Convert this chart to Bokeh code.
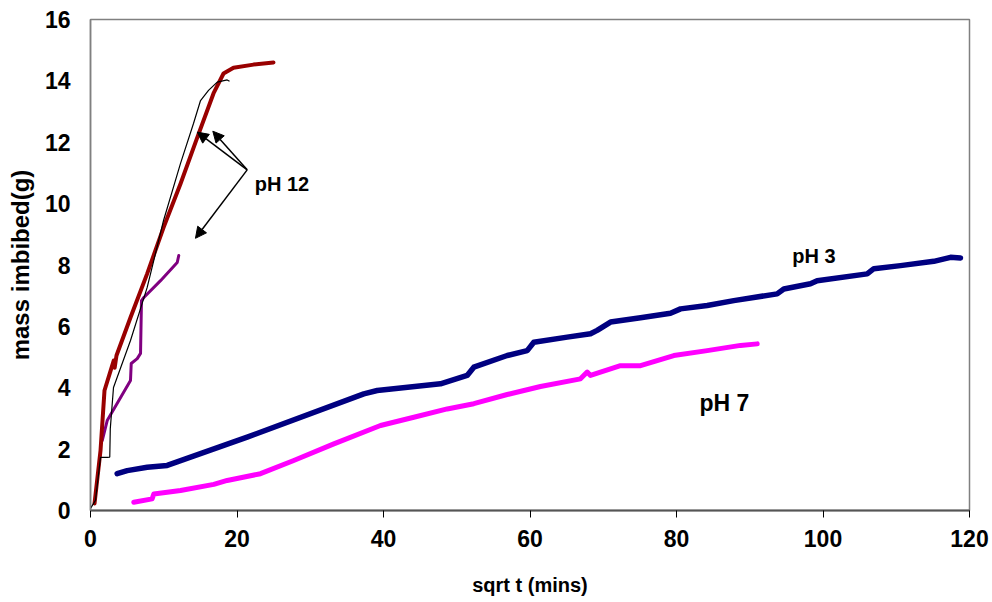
from bokeh.plotting import figure
from bokeh.models import Range1d, FixedTicker, Arrow, NormalHead, ColumnDataSource
from bokeh.core.properties import value
from bokeh.embed import file_html
from bokeh.resources import INLINE

# ---- data ----
red_x = [0.55, 1.37, 1.91, 3.18, 3.3, 3.42, 3.55, 5.46, 7.74, 9.97, 12.29, 14.57, 16.79, 18.16, 19.52, 22.25, 24.98]
red_y = [0.23, 1.96, 3.91, 4.89, 4.65, 4.85, 5.05, 6.29, 7.72, 9.22, 10.65, 12.15, 13.59, 14.24, 14.43, 14.53, 14.6]

black_x = [0.0, 0.68, 1.37, 2.28, 2.63, 2.7, 3.14, 5.46, 7.74, 9.97, 12.29, 14.06, 15.02, 16.11, 17.3, 18.66, 18.98]
black_y = [0.07, 0.33, 1.73, 1.73, 1.74, 2.66, 4.01, 5.54, 7.27, 9.45, 11.31, 12.61, 13.36, 13.69, 13.96, 14.03, 13.99]

purple_x = [1.6, 2.28, 5.46, 5.56, 6.38, 6.83, 6.96, 7.28, 9.56, 11.84, 12.05]
purple_y = [2.28, 2.93, 4.24, 4.79, 4.95, 5.12, 6.84, 6.94, 7.49, 8.08, 8.31]

ph3_x = [3.64, 5.01, 7.74, 10.47, 21.39, 37.31, 39.14, 47.78, 51.42, 52.33, 56.89, 59.62, 60.52,
         65.08, 68.26, 69.17, 70.99, 75.09, 79.18, 80.55, 84.19, 87.82, 93.74, 94.65, 98.29, 99.2,
         106.03, 106.94, 110.58, 115.13, 117.41, 118.77]
ph3_y = [1.2, 1.3, 1.41, 1.47, 2.39, 3.8, 3.91, 4.13, 4.4, 4.67, 5.05, 5.21, 5.48,
         5.65, 5.76, 5.87, 6.14, 6.28, 6.43, 6.57, 6.68, 6.84, 7.06, 7.22, 7.39, 7.49,
         7.71, 7.88, 7.98, 8.12, 8.25, 8.23]

ph7_x = [5.91, 8.42, 8.64, 12.29, 16.83, 18.66, 23.21, 27.75, 33.22, 39.59, 44.14, 48.7, 52.33,
         56.89, 61.43, 66.89, 67.81, 68.26, 72.35, 75.09, 79.63, 84.19, 88.74, 91.02]
ph7_y = [0.27, 0.38, 0.54, 0.65, 0.85, 0.98, 1.2, 1.63, 2.17, 2.77, 3.04, 3.31, 3.48,
         3.78, 4.04, 4.29, 4.51, 4.4, 4.72, 4.72, 5.05, 5.21, 5.38, 5.43]

x_ticks = [0, 20, 40, 60, 80, 100, 120]
y_ticks = [0, 2, 4, 6, 8, 10, 12, 14, 16]

label_text = ["pH 12", "pH 3", "pH 7"]
label_x = [26.14, 98.76, 86.55]
label_y = [10.64, 8.29, 3.49]
label_size = ["20px", "20px", "23px"]

arrow_origin = (21.39, 11.1)
arrow_tips_x = [14.57, 16.7, 14.33]
arrow_tips_y = [12.33, 12.36, 8.87]

FONT = "Liberation Sans"

p = figure(width=992, height=602, output_backend="svg", toolbar_location=None,
           x_range=Range1d(0, 120), y_range=Range1d(0, 16),
           min_border_left=90, min_border_right=23, min_border_top=19, min_border_bottom=92)

p.background_fill_color = "white"
p.border_fill_color = "white"
p.outline_line_color = "#808080"
p.outline_line_width = 1.5
p.xgrid.visible = False
p.ygrid.visible = False

# axes
p.xaxis.ticker = FixedTicker(ticks=x_ticks)
p.yaxis.ticker = FixedTicker(ticks=y_ticks)
for ax in (p.xaxis[0], p.yaxis[0]):
    ax.major_label_text_font = FONT
    ax.major_label_text_font_style = "bold"
    ax.major_label_text_font_size = "23px"
    ax.major_label_text_color = "black"
    ax.axis_label_text_font = FONT
    ax.axis_label_text_font_style = "bold"
    ax.axis_label_text_color = "black"
    ax.minor_tick_line_color = None

p.xaxis.axis_label = "sqrt t (mins)"
p.xaxis.axis_label_text_font_size = "20px"
p.xaxis.axis_line_color = "#555555"
p.xaxis.axis_line_width = 2
p.xaxis.major_tick_line_color = "black"
p.xaxis.major_tick_out = 7
p.xaxis.major_tick_in = 0
p.xaxis.major_label_standoff = 12
p.xaxis.axis_label_standoff = 24

p.yaxis.axis_label = "mass imbibed(g)"
p.yaxis.axis_label_text_font_size = "24px"
p.yaxis.axis_line_color = "#808080"
p.yaxis.axis_line_width = 1.5
p.yaxis.major_tick_line_color = None
p.yaxis.major_tick_out = 0
p.yaxis.major_tick_in = 0
p.yaxis.major_label_standoff = 20
p.yaxis.axis_label_standoff = 8

# series
p.line(ph3_x, ph3_y, line_color="#000080", line_width=5.5, line_join="round", line_cap="round")
p.line(ph7_x, ph7_y, line_color="#FF00FF", line_width=5, line_join="round", line_cap="round")
p.line(purple_x, purple_y, line_color="#800080", line_width=3, line_join="round", line_cap="round")
p.line(red_x, red_y, line_color="#990000", line_width=4, line_join="round", line_cap="round")
p.line(black_x, black_y, line_color="black", line_width=1.2)

# labels
src = ColumnDataSource(dict(x=label_x, y=label_y, t=label_text, s=label_size))
p.text(x="x", y="y", text="t", source=src, text_font=value(FONT), text_font_style="bold",
       text_font_size="s", text_align="center", text_baseline="middle", text_color="black")

# arrows
for tx, ty in zip(arrow_tips_x, arrow_tips_y):
    p.add_layout(Arrow(end=NormalHead(size=11, fill_color="black", line_color="black", line_width=1),
                       x_start=arrow_origin[0], y_start=arrow_origin[1], x_end=tx, y_end=ty,
                       line_color="black", line_width=1.5))

open("out.html", "w").write(file_html(p, INLINE))
